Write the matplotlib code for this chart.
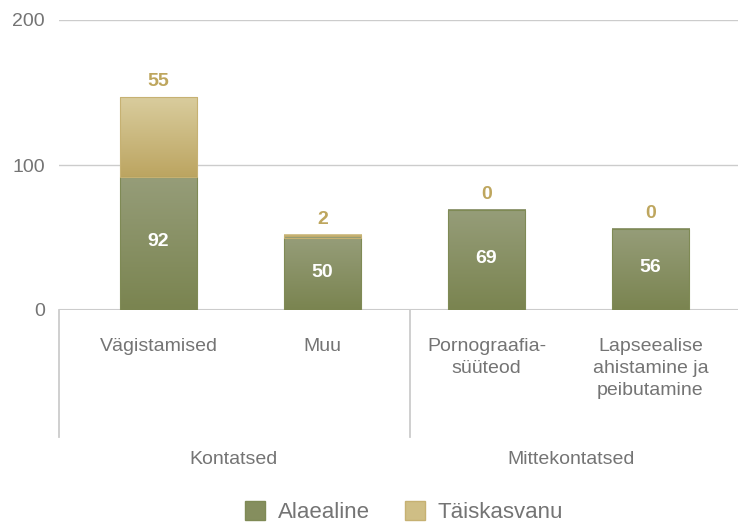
import numpy as np
import matplotlib
matplotlib.use("Agg")
import matplotlib.pyplot as plt
from matplotlib.colors import LinearSegmentedColormap
from matplotlib.patches import Rectangle

plt.rcParams['font.family'] = ['Liberation Sans', 'DejaVu Sans']

categories = ['Vägistamised', 'Muu', 'Pornograafia-\nsüüteod',
              'Lapseealise\nahistamine ja\npeibutamine']
alaealine = [92, 50, 69, 56]
taiskasvanu = [55, 2, 0, 0]
groups = ['Kontatsed', 'Mittekontatsed']
group_centers = [0.455, 2.515]
separators = [-0.607, 1.534]
yticks = [0, 100, 200]

grey = '#747474'
line_c = '#cccccc'
green_top, green_bot = '#969d79', '#7a8450'
tan_top, tan_bot = '#d9cc9d', '#bca561'
tan_txt = '#bea65e'

fig = plt.figure(figsize=(7.38, 5.22), dpi=100)
ax = fig.add_axes([59/738, 1-310/522, 1-59/738, 290/522])

x = np.arange(len(categories))
w = 0.47

def grad_bar(x0, y0, h, c_top, c_bot, edge):
    if h <= 0:
        return
    cmap = LinearSegmentedColormap.from_list('g', [c_bot, c_top])
    g = np.linspace(0, 1, 100).reshape(-1, 1)
    ax.imshow(g, extent=[x0 - w/2, x0 + w/2, y0, y0 + h], origin='lower',
              cmap=cmap, aspect='auto', zorder=2)
    ax.add_patch(Rectangle((x0 - w/2, y0), w, h, fill=False, edgecolor=edge,
                           linewidth=0.8, zorder=3))

for i in range(len(categories)):
    grad_bar(x[i], 0, alaealine[i], green_top, green_bot, '#7f8a55')
    grad_bar(x[i], alaealine[i], taiskasvanu[i], tan_top, tan_bot, '#c6b172')
    ax.text(x[i], alaealine[i] / 2 + 1, str(alaealine[i]), ha='center', va='center',
            color='white', fontsize=14, fontweight='bold', zorder=4)
    ax.annotate(str(taiskasvanu[i]), (x[i], alaealine[i] + taiskasvanu[i]),
                xytext=(0, 11), textcoords='offset points', ha='center', va='center',
                color=tan_txt, fontsize=14, fontweight='bold')
    ax.text(x[i], -19.5, categories[i], ha='center', va='top', color=grey,
            fontsize=14, linespacing=1.38, clip_on=False)

ax.set_xlim(-0.607, 3.534)
ax.set_ylim(0, 200)

for yv in [100, 200]:
    ax.axhline(yv, color=line_c, linewidth=1, zorder=1)
ax.axhline(0, color=line_c, linewidth=1.5, zorder=1)

for sx in separators:
    ax.plot([sx, sx], [0, -87.6], color=line_c, linewidth=1.3, clip_on=False)

for gx, gname in zip(group_centers, groups):
    ax.text(gx, -103.4, gname, ha='center', va='center', color=grey,
            fontsize=14, clip_on=False)

ax.set_xticks([])
ax.set_yticks(yticks)
ax.set_yticklabels([str(v) for v in yticks], color=grey, fontsize=14)
ax.tick_params(axis='y', length=0, pad=10)
for s in ax.spines.values():
    s.set_visible(False)

handles = [Rectangle((0, 0), 1, 1, facecolor='#858e5e', edgecolor='#7f8a55'),
           Rectangle((0, 0), 1, 1, facecolor='#cfbe85', edgecolor='#c6b172')]
fig.legend(handles, ['Alaealine', 'Täiskasvanu'], loc='center',
           bbox_to_anchor=(404/738, 1-512/522), ncol=2, frameon=False,
           fontsize=16, labelcolor=grey, handlelength=0.9, handleheight=0.9,
           handletextpad=0.55, columnspacing=1.6)

fig.savefig('out.png', dpi=100)
